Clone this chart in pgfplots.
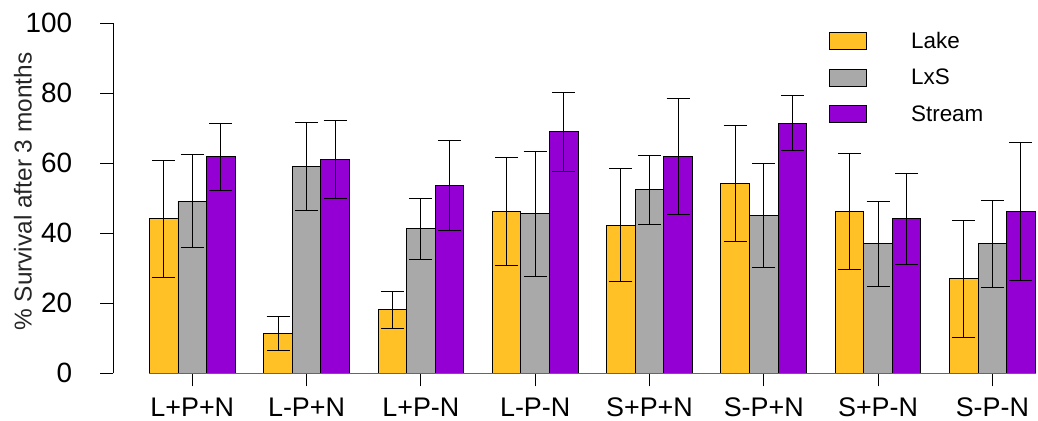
\documentclass[border=0pt]{standalone}
\usepackage{pgfplots}
\pgfplotsset{compat=1.18}
\usepackage{pgfplotstable}
\usepackage{fontspec}
\setmainfont{Liberation Sans}
\definecolor{lakec}{HTML}{FFC125}
\definecolor{lxsc}{HTML}{A9A9A9}
\definecolor{streamc}{HTML}{9400D3}

\pgfplotstableread{
x y e
0 44.1 16.6
1 11.4 4.85
2 18.1 5.2
3 46.3 15.4
4 42.3 16.1
5 54.3 16.55
6 46.2 16.5
7 27.0 16.65
}\lake
\pgfplotstableread{
x y e
0 49.2 13.25
1 59.0 12.6
2 41.3 8.75
3 45.6 17.9
4 52.4 9.75
5 45.0 14.9
6 37.0 12.1
7 37.0 12.4
}\lxs
\pgfplotstableread{
x y e
0 61.9 9.6
1 61.0 11.1
2 53.7 12.95
3 69.0 11.25
4 61.9 16.55
5 71.5 7.9
6 44.1 13.0
7 46.2 19.65
}\stream

\begin{document}
\begin{tikzpicture}
\begin{axis}[
  scale only axis, width=922.5bp, height=350bp,
  xmin=-0.691, xmax=7.38, ymin=0, ymax=100,
  enlargelimits=false,
  axis x line*=bottom, axis y line*=left,
  x axis line style={draw=none},
  y axis line style={line width=0.8bp, black, -},
  tick align=outside, major tick length=13bp,
  tick style={black, line width=0.8bp},
  xtick={0,...,7},
  xticklabels={L+P+N,L-P+N,L+P-N,L-P-N,S+P+N,S-P+N,S+P-N,S-P-N},
  ytick={0,20,...,100},
  /pgf/number format/assume math mode=true,
  yticklabel style={font=\fontsize{28}{28}\selectfont, anchor=east, inner sep=0pt, xshift=-28bp},
  xticklabel style={font=\fontsize{27}{27}\selectfont, anchor=north, inner sep=0pt, yshift=-11bp},
  ylabel={\% Survival after 3 months},
  every axis y label/.style={at={(axis description cs:-0.0881,0.519)}, rotate=90, anchor=south, inner sep=0pt, font=\fontsize{24.5}{24.5}\selectfont, text=black!85},
  legbox/.style={legend image code/.code={\draw[##1, line width=0.9bp] (0bp,-8.5bp) rectangle (37bp,8.5bp);}},
  legend style={at={(axis cs:5.571,97.5)}, anchor=north west, draw=none, fill=none, inner sep=0pt, row sep=18.5bp, column sep=44bp, font=\fontsize{22.5}{22.5}\selectfont, nodes={inner sep=0pt}},
  legend cell align=left,
  ybar, bar width=0.25,
  error bars/y dir=both, error bars/y explicit,
  error bars/error bar style={line width=0.9bp, black},
  error bars/error mark options={rotate=90, mark size=11.5bp, line width=0.9bp, black},
]
\addplot[fill=lakec, draw=black, line width=0.9bp, bar shift=-0.25, legbox] table[x=x, y=y, y error=e] {\lake};
\addlegendentry{Lake}
\addplot[fill=lxsc, draw=black, line width=0.9bp, bar shift=0, legbox] table[x=x, y=y, y error=e] {\lxs};
\addlegendentry{LxS}
\addplot[fill=streamc, draw=black, line width=0.9bp, bar shift=0.25, legbox] table[x=x, y=y, y error=e] {\stream};
\addlegendentry{Stream}
\draw[black!60, line width=0.6bp] (axis cs:-0.375,0) -- (axis cs:7.4,0);
\end{axis}
\pgfresetboundingbox
\useasboundingbox (-113.3bp,-47.7bp) rectangle (924.7bp,373.3bp);
\end{tikzpicture}
\end{document}
